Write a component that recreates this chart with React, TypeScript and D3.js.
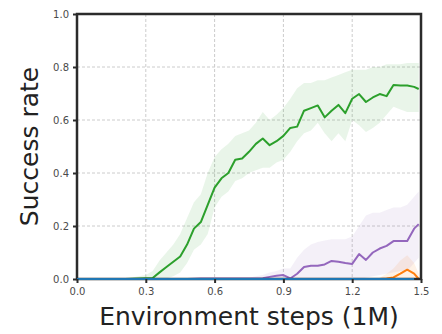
import React, { useEffect, useRef } from 'react';
import * as d3 from 'd3';

// environment steps (1M)
const steps = [0, 0.03, 0.06, 0.09, 0.12, 0.15, 0.18, 0.21, 0.24, 0.27, 0.3, 0.33, 0.36, 0.39, 0.42, 0.45, 0.48,
  0.51, 0.54, 0.57, 0.6, 0.63, 0.66, 0.69, 0.72, 0.75, 0.78, 0.81, 0.84, 0.87, 0.9, 0.93, 0.96, 0.99,
  1.02, 1.05, 1.08, 1.11, 1.14, 1.17, 1.2, 1.23, 1.26, 1.29, 1.32, 1.35, 1.38, 1.41, 1.44, 1.47, 1.49];

const greenMean = [0, 0, 0, 0, 0, 0, 0, 0, 0.001, 0.002, 0.003, 0.004, 0.025, 0.045, 0.065, 0.085, 0.13,
  0.19, 0.215, 0.28, 0.345, 0.38, 0.4, 0.45, 0.455, 0.48, 0.51, 0.53, 0.505, 0.52, 0.54, 0.57, 0.575, 0.635,
  0.645, 0.655, 0.61, 0.635, 0.657, 0.626, 0.68, 0.698, 0.668, 0.685, 0.698, 0.69, 0.732, 0.73, 0.73, 0.725, 0.717];
const greenLow = [0, 0, 0, 0, 0, 0, 0, 0, 0, 0, 0, 0, 0, 0.002, 0.01, 0.025, 0.06,
  0.11, 0.13, 0.17, 0.27, 0.31, 0.33, 0.37, 0.38, 0.4, 0.41, 0.42, 0.42, 0.44, 0.45, 0.48, 0.52, 0.55,
  0.56, 0.59, 0.55, 0.52, 0.55, 0.52, 0.6, 0.58, 0.555, 0.57, 0.59, 0.62, 0.65, 0.64, 0.63, 0.63, 0.63];
const greenHigh = [0, 0, 0, 0, 0, 0, 0, 0.002, 0.006, 0.01, 0.015, 0.03, 0.07, 0.1, 0.13, 0.17, 0.23,
  0.29, 0.32, 0.4, 0.46, 0.49, 0.51, 0.54, 0.55, 0.56, 0.59, 0.63, 0.6, 0.62, 0.645, 0.68, 0.72, 0.74,
  0.74, 0.75, 0.75, 0.76, 0.77, 0.78, 0.79, 0.79, 0.79, 0.8, 0.8, 0.81, 0.81, 0.81, 0.815, 0.815, 0.815];

const purpleMean = [0, 0, 0, 0, 0, 0, 0, 0, 0, 0, 0, 0, 0, 0, 0, 0, 0,
  0.001, 0.002, 0.002, 0.002, 0.002, 0.002, 0.002, 0.002, 0.002, 0.002, 0.003, 0.008, 0.012, 0.015, 0.002, 0.02, 0.045,
  0.05, 0.05, 0.055, 0.068, 0.065, 0.06, 0.057, 0.094, 0.072, 0.1, 0.115, 0.125, 0.143, 0.143, 0.143, 0.19, 0.207];
const purpleLow = [0, 0, 0, 0, 0, 0, 0, 0, 0, 0, 0, 0, 0, 0, 0, 0, 0,
  0, 0, 0, 0, 0, 0, 0, 0, 0, 0, 0, 0, 0, 0, 0, 0, 0,
  0, 0, 0, 0, 0, 0, 0, 0, 0.005, 0.01, 0.015, 0.02, 0.025, 0.03, 0.03, 0.06, 0.08];
const purpleHigh = [0, 0, 0, 0, 0, 0, 0, 0, 0, 0, 0, 0, 0, 0, 0, 0, 0.002,
  0.004, 0.005, 0.005, 0.005, 0.005, 0.005, 0.005, 0.005, 0.005, 0.01, 0.015, 0.025, 0.03, 0.04, 0.04, 0.08, 0.11,
  0.13, 0.14, 0.145, 0.15, 0.15, 0.15, 0.16, 0.2, 0.24, 0.25, 0.25, 0.26, 0.27, 0.27, 0.28, 0.31, 0.33];

const orangeMean = [0, 0, 0, 0, 0, 0, 0, 0, 0, 0, 0, 0, 0, 0, 0, 0, 0,
  0, 0, 0, 0, 0, 0, 0, 0, 0, 0, 0, 0, 0, 0, 0, 0, 0,
  0, 0, 0, 0, 0, 0, 0, 0, 0, 0, 0, 0.002, 0.006, 0.02, 0.035, 0.02, 0];
const orangeLow = [0, 0, 0, 0, 0, 0, 0, 0, 0, 0, 0, 0, 0, 0, 0, 0, 0,
  0, 0, 0, 0, 0, 0, 0, 0, 0, 0, 0, 0, 0, 0, 0, 0, 0,
  0, 0, 0, 0, 0, 0, 0, 0, 0, 0, 0, 0, 0, 0, 0, 0, 0];
const orangeHigh = [0, 0, 0, 0, 0, 0, 0, 0, 0, 0, 0, 0, 0, 0, 0, 0, 0,
  0, 0, 0, 0, 0, 0, 0, 0, 0, 0, 0, 0, 0, 0, 0, 0, 0,
  0, 0, 0, 0, 0, 0, 0, 0, 0, 0, 0.005, 0.02, 0.04, 0.07, 0.09, 0.06, 0.02];

const blueMean = [0, 0, 0, 0, 0, 0, 0, 0, 0, 0, 0, 0, 0, 0, 0, 0, 0,
  0, 0, 0, 0, 0, 0, 0, 0, 0, 0, 0, 0, 0, 0, 0, 0, 0,
  0, 0, 0, 0, 0, 0, 0, 0, 0, 0, 0, 0, 0, 0, 0, 0];

const xTicks = [0, 0.3, 0.6, 0.9, 1.2, 1.5];
const yTicks = [0, 0.2, 0.4, 0.6, 0.8, 1.0];

const series = [
  { name: 'orange', color: '#ff7f0e', mean: orangeMean, low: orangeLow, high: orangeHigh },
  { name: 'purple', color: '#9467bd', mean: purpleMean, low: purpleLow, high: purpleHigh },
  { name: 'green', color: '#2ca02c', mean: greenMean, low: greenLow, high: greenHigh },
];

export default function App() {
  const ref = useRef<SVGSVGElement>(null);

  useEffect(() => {
    const svg = d3.select(ref.current);
    svg.selectAll('*').remove();

    const left = 77, right = 421, top = 14, bottom = 279;
    const x = d3.scaleLinear().domain([0, 1.5]).range([left, right]);
    const y = d3.scaleLinear().domain([0, 1]).range([bottom, top]);

    // grid
    const grid = svg.append('g');
    grid.selectAll('line.gx').data(xTicks).enter().append('line')
      .attr('x1', d => x(d)).attr('x2', d => x(d)).attr('y1', top).attr('y2', bottom)
      .attr('stroke', '#cccccc').attr('stroke-width', 1).attr('stroke-dasharray', '3,2');
    grid.selectAll('line.gy').data(yTicks).enter().append('line')
      .attr('x1', left).attr('x2', right).attr('y1', d => y(d)).attr('y2', d => y(d))
      .attr('stroke', '#cccccc').attr('stroke-width', 1).attr('stroke-dasharray', '3,2');

    const line = d3.line<number>()
      .x((_, i) => x(steps[i]))
      .y(d => y(d));

    // shaded bands
    series.forEach(s => {
      svg.append('path')
        .datum(s.low)
        .attr('d', d3.area<number>()
          .x((_, i) => x(steps[i]))
          .y0(d => y(d))
          .y1((_, i) => y(s.high[i])))
        .attr('fill', s.color)
        .attr('fill-opacity', 0.1);
    });

    series.forEach(s => {
      svg.append('path')
        .datum(s.mean)
        .attr('d', line)
        .attr('fill', 'none')
        .attr('stroke', s.color)
        .attr('stroke-width', 2)
        .attr('stroke-linejoin', 'round');
    });

    // frame
    svg.append('rect')
      .attr('x', left).attr('y', top)
      .attr('width', right - left).attr('height', bottom - top)
      .attr('fill', 'none').attr('stroke', '#2b2b2b').attr('stroke-width', 2.5);

    svg.append('path')
      .datum(blueMean)
      .attr('d', line)
      .attr('fill', 'none')
      .attr('stroke', '#1f77b4')
      .attr('stroke-width', 2);

    // axes
    const xAxis = svg.append('g')
      .attr('transform', `translate(0,${bottom})`)
      .call(d3.axisBottom(x).tickValues(xTicks).tickFormat(d3.format('.1f')).tickSize(4).tickPadding(5));
    const yAxis = svg.append('g')
      .attr('transform', `translate(${left},0)`)
      .call(d3.axisLeft(y).tickValues(yTicks).tickFormat(d3.format('.1f')).tickSize(4).tickPadding(4));
    [xAxis, yAxis].forEach(a => {
      a.select('.domain').remove();
      a.selectAll('line').attr('stroke', '#2b2b2b').attr('stroke-width', 2);
      a.selectAll('text')
        .attr('fill', '#4a4a4a')
        .style('font-family', 'DejaVu Sans')
        .style('font-size', '10px');
    });

    svg.append('text')
      .attr('x', (left + right) / 2).attr('y', 325)
      .attr('text-anchor', 'middle')
      .style('font-family', 'DejaVu Sans')
      .style('font-size', '25px')
      .attr('fill', '#222')
      .text('Environment steps (1M)');

    svg.append('text')
      .attr('transform', `translate(38,${(top + bottom) / 2}) rotate(-90)`)
      .attr('text-anchor', 'middle')
      .style('font-family', 'DejaVu Sans')
      .style('font-size', '25px')
      .attr('fill', '#222')
      .text('Success rate');
  }, []);

  return <svg ref={ref} width={442} height={334} style={{ position: 'absolute', left: 0, top: 0, background: '#fff' }}></svg>;
}
